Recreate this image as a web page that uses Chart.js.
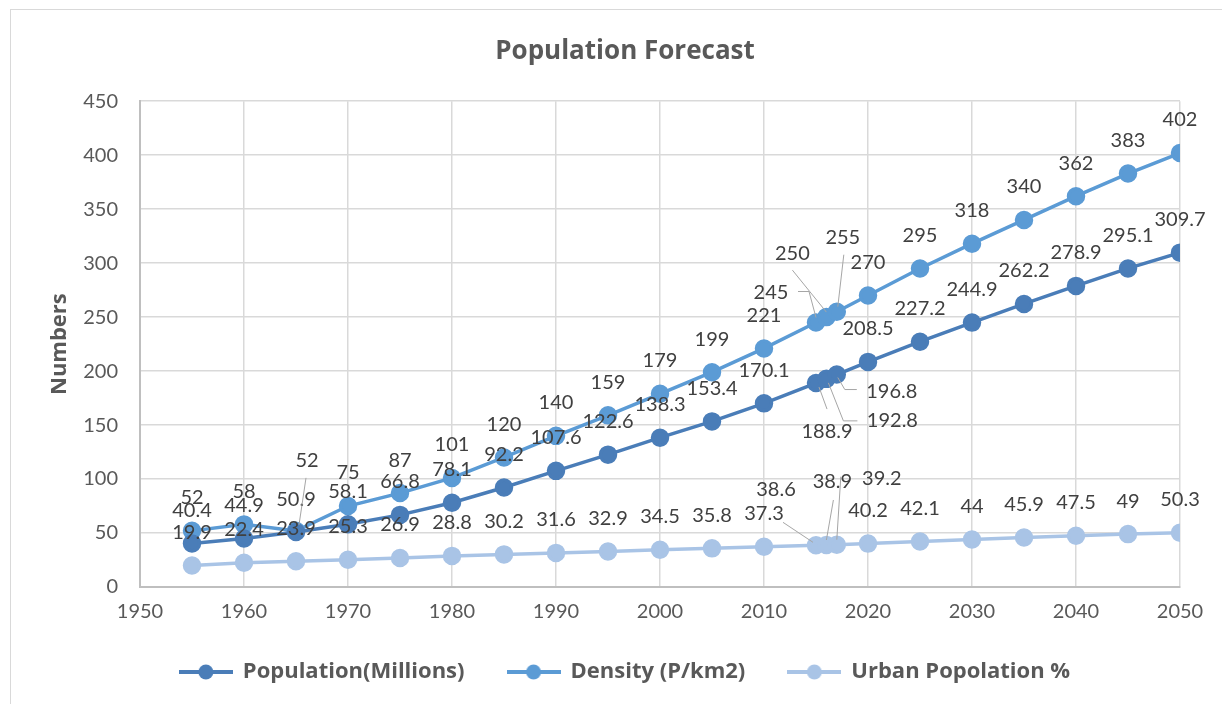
<!DOCTYPE html>
<html lang="en">
  <head>
    <meta charset="UTF-8" />
    <title>Population Forecast</title>
    <script src="https://cdn.jsdelivr.net/npm/chart.js"></script>
    <style>
      body {
        margin: 0;
        background: #ffffff;
      }
      #wrap {
        width: 1222px;
        height: 704px;
      }
    </style>
  </head>
  <body>
    <div id="wrap"><canvas id="popChart" width="1222" height="704"></canvas></div>

    <script>
      // data
      const years = [1955, 1960, 1965, 1970, 1975, 1980, 1985, 1990, 1995, 2000, 2005, 2010, 2015, 2016, 2017, 2020, 2025, 2030, 2035, 2040, 2045, 2050]
      const population = [40.4, 44.9, 50.9, 58.1, 66.8, 78.1, 92.2, 107.6, 122.6, 138.3, 153.4, 170.1, 188.9, 192.8, 196.8, 208.5, 227.2, 244.9, 262.2, 278.9, 295.1, 309.7]
      const density = [52, 58, 52, 75, 87, 101, 120, 140, 159, 179, 199, 221, 245, 250, 255, 270, 295, 318, 340, 362, 383, 402]
      const urban = [19.9, 22.4, 23.9, 25.3, 26.9, 28.8, 30.2, 31.6, 32.9, 34.5, 35.8, 37.3, 38.6, 38.9, 39.2, 40.2, 42.1, 44, 45.9, 47.5, 49, 50.3]
      const seriesNames = ['Population(Millions)', 'Density (P/km2)', 'Urban Popolation %']
      const seriesColors = ['#4a7db8', '#5b9bd5', '#a9c4e6']

      // labels Excel moved by hand (offset from point + leader line), keyed "dataset-index"
      const movedLabels = {
        '1-2': { dx: 11, dy: -70, leader: [[10, -53], [3, -6]] },
        '1-12': { dx: -45, dy: -30, leader: [[-18, -31], [-7, -31], [0, -5]] },
        '1-13': { dx: -34, dy: -64, leader: [[-34, -47], [0, -5]] },
        '1-14': { dx: 6, dy: -74, leader: [[7, -57], [1, -5]] },
        '0-12': { dx: 11, dy: 48, leader: [[11, 26], [3, 4]] },
        '0-13': { dx: 66, dy: 42, leader: [[31, 42], [17, 42], [2, 4]] },
        '0-14': { dx: 55, dy: 17, leader: [[20, 15], [8, 15], [1, 3]] },
        '2-12': { dx: -40, dy: -56, leader: [[-33, -23], [-3, -3]] },
        '2-13': { dx: 6, dy: -63, leader: [[7, -45], [0, -5]] },
        '2-14': { dx: 45, dy: -66, leader: [[4, -68], [0, -5]] },
      }

      const FONT = 'Lato, "Open Sans", sans-serif'
      const BOLD_FONT = '"Open Sans", Lato, sans-serif'

      function toPoints(values) {
        return years.map((y, i) => ({ x: y, y: values[i] }))
      }

      // little line-with-dot marker for the legend
      function legendMarker(color) {
        const c = document.createElement('canvas')
        c.width = 54
        c.height = 20
        const g = c.getContext('2d')
        g.strokeStyle = color
        g.lineWidth = 4
        g.beginPath()
        g.moveTo(0, 10)
        g.lineTo(54, 10)
        g.stroke()
        g.fillStyle = color
        g.beginPath()
        g.arc(27, 10, 7.5, 0, Math.PI * 2)
        g.fill()
        return c
      }

      const frame = {
        id: 'frame',
        beforeDraw(chart) {
          const ctx = chart.ctx
          ctx.save()
          ctx.fillStyle = '#ffffff'
          ctx.fillRect(0, 0, chart.width, chart.height)
          ctx.strokeStyle = '#d9d9d9'
          ctx.lineWidth = 1
          ctx.strokeRect(10.5, 9.5, 1240, 720)
          ctx.restore()
        },
      }

      const dataLabels = {
        id: 'dataLabels',
        afterDatasetsDraw(chart) {
          const ctx = chart.ctx
          ctx.save()
          ctx.font = '20px ' + FONT
          ctx.textAlign = 'center'
          ctx.textBaseline = 'middle'
          chart.data.datasets.forEach((ds, di) => {
            const meta = chart.getDatasetMeta(di)
            meta.data.forEach((pt, i) => {
              const moved = movedLabels[di + '-' + i]
              let lx = pt.x
              let ly = pt.y - 33
              if (moved) {
                lx = pt.x + moved.dx
                ly = pt.y + moved.dy
                ctx.strokeStyle = '#a6a6a6'
                ctx.lineWidth = 1
                ctx.beginPath()
                moved.leader.forEach((p, k) => {
                  if (k === 0) ctx.moveTo(pt.x + p[0], pt.y + p[1])
                  else ctx.lineTo(pt.x + p[0], pt.y + p[1])
                })
                ctx.stroke()
              }
              ctx.fillStyle = '#404040'
              ctx.fillText(String(ds.data[i].y), lx, ly)
            })
          })
          ctx.restore()
        },
      }

      const datasets = [population, density, urban].map((vals, i) => ({
        label: seriesNames[i],
        data: toPoints(vals),
        borderColor: seriesColors[i],
        backgroundColor: seriesColors[i],
        pointBackgroundColor: seriesColors[i],
        pointBorderColor: seriesColors[i],
        pointStyle: 'circle',
        legendMarker: legendMarker(seriesColors[i]),
        borderWidth: 3.5,
        pointRadius: 7.5,
        pointHoverRadius: 7.5,
        tension: 0,
      }))

      new Chart(document.getElementById('popChart'), {
        type: 'line',
        data: { datasets: datasets },
        plugins: [frame, dataLabels],
        options: {
          responsive: false,
          animation: false,
          layout: { padding: { top: 0, right: 0, bottom: 11, left: 28 } },
          plugins: {
            title: {
              display: true,
              text: 'Population Forecast',
              color: '#595959',
              font: { family: BOLD_FONT, size: 26, weight: 'bold' },
              padding: { top: 36, bottom: 34 },
            },
            legend: {
              position: 'bottom',
              labels: {
                usePointStyle: true,
                pointStyleWidth: 52,
                color: '#595959',
                font: { family: BOLD_FONT, size: 22, weight: 'bold' },
                padding: 43,
                generateLabels(chart) {
                  return chart.data.datasets.map((d, i) => ({
                    text: d.label,
                    fontColor: '#595959',
                    pointStyle: d.legendMarker,
                    fillStyle: d.borderColor,
                    strokeStyle: d.borderColor,
                    lineWidth: 0,
                    hidden: false,
                    datasetIndex: i,
                  }))
                },
              },
            },
            tooltip: { enabled: false },
          },
          scales: {
            x: {
              type: 'linear',
              min: 1950,
              max: 2050,
              ticks: {
                stepSize: 10,
                color: '#595959',
                font: { family: FONT, size: 20 },
                padding: 13,
                callback: (v) => String(v),
              },
              grid: { color: '#d9d9d9', lineWidth: 1.5, drawTicks: false },
              border: { color: '#bfbfbf', width: 2 },
              afterFit: (s) => {
                s.height = 31
              },
            },
            y: {
              min: 0,
              max: 450,
              ticks: {
                stepSize: 50,
                color: '#595959',
                font: { family: FONT, size: 20 },
                padding: 22,
              },
              grid: { color: '#d9d9d9', lineWidth: 1.5, drawTicks: false },
              border: { color: '#bfbfbf', width: 2 },
              title: {
                display: true,
                text: 'Numbers',
                color: '#595959',
                font: { family: BOLD_FONT, size: 22, weight: 'bold' },
                padding: { top: 19 },
              },
              afterFit: (s) => {
                s.width = 112
              },
            },
            // empty axis on the right, only keeps the plot clear of the edge
            spacer: {
              position: 'right',
              display: true,
              ticks: { display: false },
              grid: { display: false, drawTicks: false },
              border: { display: false },
              afterFit: (s) => {
                s.width = 42
              },
            },
          },
        },
      })
    </script>
  </body>
</html>
